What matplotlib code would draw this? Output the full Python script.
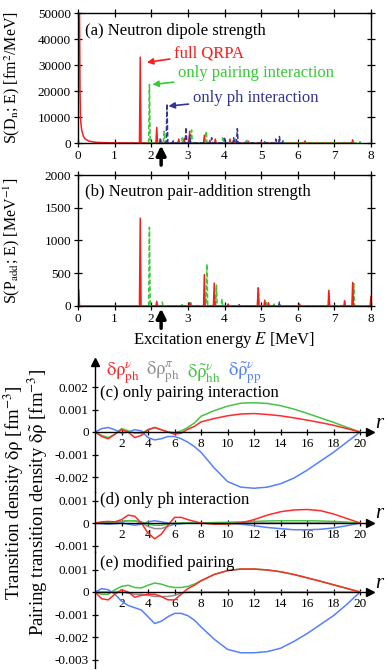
import numpy as np
import matplotlib
matplotlib.use("Agg")
import matplotlib.pyplot as plt

plt.rcParams['font.family'] = ['Liberation Serif', 'DejaVu Serif']
plt.rcParams['mathtext.fontset'] = 'stix'

# ---------------------------------------------------------------------------
# data
# ---------------------------------------------------------------------------
# (a) neutron dipole strength, peaks (E [MeV], S [fm^2/MeV])
dip_red_tail_E = [0.0, 0.04, 0.055, 0.07, 0.1, 0.15, 0.2, 0.3, 0.5, 0.8, 1.2]
dip_red_tail_S = [60000, 52000, 20000, 9000, 5000, 2500, 1500, 700, 250, 100, 50]
dip_red_E = [1.70, 2.15, 2.75, 2.90, 3.05, 3.45, 3.60, 3.75, 4.15, 4.30, 4.65, 5.10, 5.50, 6.20, 7.50]
dip_red_S = [33000, 6000, 1500, 1800, 4500, 3000, 1000, 1500, 1500, 1000, 700, 500, 500, 800, 1200]
dip_green_E = [1.95, 2.35, 2.85, 3.10, 3.50, 3.95, 4.30, 4.60, 5.00, 7.70]
dip_green_S = [22500, 4500, 2000, 5000, 4500, 2000, 1500, 1500, 500, 500]
dip_blue_E = [2.25, 2.43, 2.60, 2.95, 3.05, 3.65, 4.00, 4.25, 4.35, 5.40, 5.50, 5.60]
dip_blue_S = [2000, 15000, 800, 6000, 3000, 2000, 1800, 2000, 5500, 1500, 2500, 800]

# (b) neutron pair-addition strength, peaks (E [MeV], S [1/MeV])
pad_red_E = [0.02, 1.70, 2.15, 3.05, 3.45, 3.72, 4.10, 4.92, 5.10, 5.20, 6.05, 6.85, 7.28, 7.50, 8.00]
pad_red_S = [250, 1340, 70, 50, 480, 350, 30, 270, 90, 50, 30, 240, 80, 360, 150]
pad_green_E = [1.95, 2.30, 2.85, 3.08, 3.52, 3.78, 3.93, 4.92, 5.15, 5.35, 7.53]
pad_green_S = [1200, 60, 40, 70, 640, 320, 110, 280, 50, 30, 340]
pad_blue_E = [4.40, 5.50]
pad_blue_S = [20, 60]

arrow_E = 2.27

# (c)-(e) transition densities, r [fm], values in units of 1e-4 fm^-3
r = [0, 0.5, 1, 1.5, 2, 2.5, 3, 3.5, 4, 4.5, 5, 5.5, 6, 6.5, 7, 7.5, 8,
     9, 10, 11, 12, 13, 14, 15, 16, 17, 18, 19, 20]

c_ph_n = [0, -2, -3, -1, 1, 0, -2.5, -1.5, 1, 2, 1, 0, -1, -0.5, 1.2, 2.5, 4.5,
          6, 7.2, 8, 8.2, 7.8, 7.2, 6.3, 5.3, 4.2, 3, 1.5, 0]
c_hh_n = [0, -1.5, -2.5, -1, 1.5, 0.5, -0.5, -0.5, 1, 2, 1, 0, -0.3, 0.5, 2, 4, 7,
          9.5, 11.5, 12.8, 13, 12.7, 11.7, 10.2, 8.3, 6.3, 4.3, 2.1, 0]
c_pp_n = [0, 1.5, 2, 1, -0.5, 0, 1, 0.5, -2.5, -3.5, -3, -2, -2, -3, -4.5, -6.5, -9,
          -16, -22, -24.5, -25, -24.5, -23, -20.5, -17, -13, -9, -4.5, 0]

d_ph_n = [0, 0.5, 0.7, 0.5, 1.5, 3.5, 3, 0, -4.5, -7, -5, -1, 2.5, 2.5, 1.5, 0.7, 0,
          -0.5, -0.5, 0, 1.5, 3.5, 5, 5.8, 6, 5.5, 4, 2, 0]
d_ph_p = [0, 0, 0, 0, 0.5, 1, 1, 0, -1.5, -2.5, -2.5, -1.5, -0.5, 0, 0, 0, 0,
          0, 0, 0, 0, 0, 0, 0, 0, 0, 0, 0, 0]
d_hh_n = [0, 0, 0.3, 0.5, 0.8, 1, 1, 0.5, -0.5, -1, -1, -0.5, 0, 0, 0, 0, 0,
          0.2, 0.3, 0.5, 0.7, 0.9, 1, 1, 1, 0.9, 0.7, 0.4, 0]
d_pp_n = [0, -0.3, -0.5, -0.3, 0, -0.5, -1, -0.5, 0.5, 1, 0.5, 0, -0.5, -0.3, 0, 0, 0,
          0, 0, -0.5, -1.2, -2, -2.5, -3, -3, -2.8, -2.2, -1.2, 0]

e_ph_n = [0, -3, -3.5, -1, 1, 0, -2.3, -1.5, -1, -1, -2, -3.5, -3.5, -1, 1.5, 3, 5,
          7.8, 9.5, 10.2, 10.2, 9.8, 9, 7.8, 6.3, 4.8, 3.2, 1.6, 0]
e_ph_p = [0, 0, 0, 0, 0, -0.5, -1, -1, -1.5, -2, -2, -2, -1.5, -0.5, 0, 0, 0,
          0, 0, 0, 0, 0, 0, 0, 0, 0, 0, 0, 0]
e_hh_n = [0, -1, -1, 1, 2.5, 3, 2, 1.8, 3, 4, 3.5, 2.5, 2, 2, 2.5, 3.5, 5,
          7.8, 9.5, 10.2, 10.2, 9.8, 9, 7.8, 6.3, 4.8, 3.2, 1.6, 0]
e_pp_n = [0, 1.5, 1, -1, -4, -6, -7, -8, -11, -14, -13, -11, -9.5, -9.5, -10.5, -12.5, -15.5,
          -21, -25.5, -27, -27, -26.5, -25, -22, -18.5, -14.5, -10.5, -5.5, 0]

c_yticks = [-0.002, -0.001, 0, 0.001, 0.002]
c_yticklabels = ['-0.002', '-0.001', '0', '0.001', '0.002']
d_yticks = [-0.001, 0, 0.001]
d_yticklabels = ['-0.001', '0', '0.001']
e_yticks = [-0.003, -0.002, -0.001, 0, 0.001]
e_yticklabels = ['-0.003', '-0.002', '-0.001', '0', '0.001']
r_ticks = [2, 4, 6, 8, 10, 12, 14, 16, 18, 20]

legend_labels = [r'$\mathrm{\delta\rho}^{\nu}_{\mathrm{ph}}$',
                 r'$\mathrm{\delta\rho}^{\pi}_{\mathrm{ph}}$',
                 r'$\mathrm{\delta\tilde{\rho}}^{\nu}_{\mathrm{hh}}$',
                 r'$\mathrm{\delta\tilde{\rho}}^{\nu}_{\mathrm{pp}}$']

# colours
RED = '#ff1a1a'
GREEN = '#33cc33'
NAVY = '#333399'
L_RED = '#ff2a2a'
L_GRAY = '#909090'
L_GREEN = '#44c444'
L_BLUE = '#5580ff'


def spikes(E, S, w=0.022):
    """line through narrow triangular peaks"""
    xs, ys = [], []
    for e, s in sorted(zip(E, S)):
        xs += [e - w, e, e + w]
        ys += [0, s, 0]
    return xs, ys


def px(x0, y0, w, h):
    """pixel box (from top-left) -> figure fraction rect"""
    return [x0 / 390, 1 - (y0 + h) / 670, w / 390, h / 670]


fig = plt.figure(figsize=(3.9, 6.7), dpi=100)

# ---------------------------------------------------------------------------
# (a) dipole strength
# ---------------------------------------------------------------------------
ax_a = fig.add_axes(px(78, 13, 293, 130))
xr, yr = spikes(dip_red_E, dip_red_S)
ax_a.plot(dip_red_tail_E + xr, dip_red_tail_S + yr, color=RED, lw=1.1)
xg, yg = spikes(dip_green_E, dip_green_S)
ax_a.plot(xg, yg, color=GREEN, lw=1.1, ls=(0, (3, 1.5)))
xb, yb = spikes(dip_blue_E, dip_blue_S)
ax_a.plot(xb, yb, color=NAVY, lw=1.1, ls=(0, (3, 1.5)))
ax_a.set_xlim(0, 8)
ax_a.set_ylim(0, 50000)
ax_a.set_yticks(range(0, 50001, 10000))
ax_a.set_ylabel(r'S(D$_{\rm n}$; E) [fm$^2$/MeV]', fontsize=11.5)
ax_a.text(0.025, 0.86, '(a) Neutron dipole strength', transform=ax_a.transAxes,
          fontsize=12, va='center')
ax_a.annotate('full QRPA', xy=(1.88, 31000), xytext=(2.62, 34500), color=RED,
              fontsize=12, va='center',
              arrowprops=dict(arrowstyle='-|>', color=RED, lw=1.2,
                              shrinkA=1, shrinkB=0, mutation_scale=9))
ax_a.annotate('only pairing interaction', xy=(2.03, 22500), xytext=(2.73, 26800),
              color=GREEN, fontsize=12, va='center',
              arrowprops=dict(arrowstyle='-|>', color=GREEN, lw=1.2,
                              shrinkA=1, shrinkB=0, mutation_scale=9))
ax_a.annotate('only ph interaction', xy=(2.47, 14200), xytext=(3.13, 17500),
              color=NAVY, fontsize=12, va='center',
              arrowprops=dict(arrowstyle='-|>', color=NAVY, lw=1.2,
                              shrinkA=1, shrinkB=0, mutation_scale=9))

# ---------------------------------------------------------------------------
# (b) pair-addition strength
# ---------------------------------------------------------------------------
ax_b = fig.add_axes(px(78, 175, 293, 131))
xb, yb = spikes(pad_blue_E, pad_blue_S)
ax_b.plot(xb, yb, color=NAVY, lw=1.1, ls=(0, (3, 1.5)))
xg, yg = spikes(pad_green_E, pad_green_S)
ax_b.plot(xg, yg, color=GREEN, lw=1.1, ls=(0, (3, 1.5)))
xr, yr = spikes(pad_red_E, pad_red_S)
ax_b.plot(xr, yr, color=RED, lw=1.1)
ax_b.set_xlim(0, 8)
ax_b.set_ylim(0, 2000)
ax_b.set_yticks(range(0, 2001, 500))
ax_b.set_ylabel(r'S(P$_{\rm add}$; E) [MeV$^{-1}$]', fontsize=11.5)
ax_b.set_xlabel(r'Excitation energy $E$ [MeV]', fontsize=12, labelpad=4)
ax_b.text(0.025, 0.87, '(b) Neutron pair-addition strength', transform=ax_b.transAxes,
          fontsize=12, va='center')

for ax in (ax_a, ax_b):
    ax.set_xticks(range(0, 9))
    ax.tick_params(direction='inout', length=6, width=0.9, top=True, right=True,
                   labelsize=9.5, pad=2)
    for s in ax.spines.values():
        s.set_linewidth(1.0)
    ax.annotate('', xy=(arrow_E, -0.02), xycoords=('data', 'axes fraction'),
                xytext=(arrow_E, -0.17), textcoords=('data', 'axes fraction'),
                arrowprops=dict(arrowstyle='-|>', color='k', lw=2.5,
                                mutation_scale=14, shrinkA=0, shrinkB=0),
                annotation_clip=False)
    ax.yaxis.set_label_coords(-0.19, 0.5)

# ---------------------------------------------------------------------------
# (c)-(e) transition densities
# ---------------------------------------------------------------------------
PXU = 22500.0  # pixels per fm^-3
panels = [
    (362, 492, 432, 393, '(c) only pairing interaction', c_ph_n, None, c_hh_n, c_pp_n,
     c_yticks, c_yticklabels),
    (492, 552, 523, 500, '(d) only ph interaction', d_ph_n, d_ph_p, d_hh_n, d_pp_n,
     d_yticks, d_yticklabels),
    (552, 668, 592, 563, '(e) modified pairing', e_ph_n, e_ph_p, e_hh_n, e_pp_n,
     e_yticks, e_yticklabels),
]
lower_axes = []
for top, bot, zero, title_y, title, ph_n, ph_p, hh_n, pp_n, yt, ytl in panels:
    ax = fig.add_axes(px(95, top, 275, bot - top))
    ax.patch.set_alpha(0)
    rr = np.array(r)
    if ph_p is not None:
        ax.plot(rr, np.array(ph_p) * 1e-4, color=L_GRAY, lw=1.1)
    ax.plot(rr, np.array(pp_n) * 1e-4, color=L_BLUE, lw=1.1)
    ax.plot(rr, np.array(hh_n) * 1e-4, color=L_GREEN, lw=1.1)
    ax.plot(rr, np.array(ph_n) * 1e-4, color=L_RED, lw=1.1)
    ax.set_xlim(0, 20.75)
    ax.set_ylim(-(bot - zero) / PXU, (zero - top) / PXU)
    ax.spines['top'].set_visible(False)
    ax.spines['right'].set_visible(False)
    ax.spines['bottom'].set_position(('data', 0))
    ax.spines['bottom'].set_linewidth(1.0)
    ax.spines['left'].set_linewidth(1.0)
    ax.set_xticks(r_ticks)
    ax.set_yticks(yt)
    ax.set_yticklabels(ytl)
    ax.tick_params(direction='inout', length=5, width=0.9, labelsize=9.5, pad=2)
    ax.plot(1, 0, '>', color='k', ms=6, transform=ax.get_yaxis_transform(),
            clip_on=False)
    ax.text(1.02, 0.0004, 'r', transform=ax.get_yaxis_transform(), fontsize=15,
            style='italic', va='center', ha='left')
    fig.text(100 / 390, 1 - title_y / 670, title, fontsize=12, va='center')
    lower_axes.append(ax)

ax_c = lower_axes[0]
ax_c.plot(0, 1, '^', color='k', ms=6, transform=ax_c.transAxes, clip_on=False)

# legend labels above panel (c)
leg_x = [106, 146, 187, 228]
leg_c = [L_RED, L_GRAY, L_GREEN, L_BLUE]
for x0, lab, col in zip(leg_x, legend_labels, leg_c):
    fig.text(x0 / 390, 1 - 373 / 670, lab, color=col, fontsize=13.5, va='center')

fig.text(14 / 390, 1 - 493 / 670, r'Transition density $\mathrm{\delta\rho}$ [fm$^{-3}$]',
         rotation=90, fontsize=13.5, ha='center', va='center')
fig.text(38 / 390, 1 - 502 / 670,
         r'Pairing transition density $\mathrm{\delta\tilde{\rho}}$ [fm$^{-3}$]',
         rotation=90, fontsize=13.5, ha='center', va='center')

fig.savefig('out.png', dpi=100)
